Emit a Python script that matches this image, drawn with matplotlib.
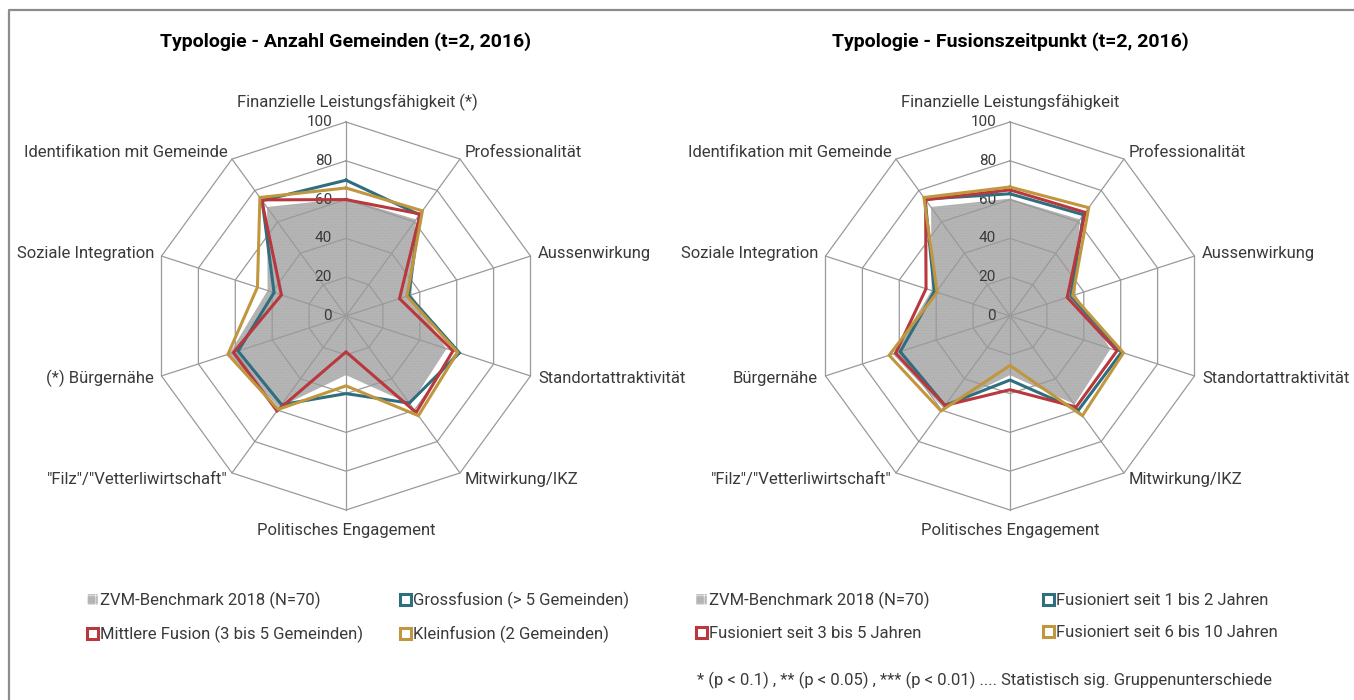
import matplotlib
matplotlib.use("Agg")
import matplotlib.pyplot as plt
import matplotlib.patches as mpatches
from matplotlib.lines import Line2D
import numpy as np

plt.rcParams['font.family'] = ['Roboto', 'DejaVu Sans']
plt.rcParams['hatch.linewidth'] = 0.4

#---------------------------------------------------------------------------------------------------
# data
#---------------------------------------------------------------------------------------------------
categories = ['Finanzielle Leistungsfähigkeit', 'Professionalität', 'Aussenwirkung',
              'Standortattraktivität', 'Mitwirkung/IKZ', 'Politisches Engagement',
              '"Filz"/"Vetterliwirtschaft"', 'Bürgernähe', 'Soziale Integration',
              'Identifikation mit Gemeinde']
# significance marks used in the left chart (prefix, suffix)
left_marks = {0: ('', ' (*)'), 7: ('(*) ', '')}

benchmark = [61, 62, 36, 55, 57, 31, 59, 64, 43, 70]

# left: number of merged municipalities
gross = [70, 64.5, 34, 61.5, 55.5, 40, 56.5, 58.5, 39, 73.5]
mittlere = [60, 65, 29, 58, 61.5, 18.5, 60.5, 61, 35, 74]
klein = [66, 67, 33, 60.5, 63.5, 36, 59.5, 64, 48, 75.5]

# right: time since merger
seit_1_2 = [63, 64.5, 33, 60.5, 60, 33, 57, 59.5, 41, 74.5]
seit_3_5 = [65, 66, 31, 58, 58, 38, 57, 62, 45.5, 74]
seit_6_10 = [66.5, 69, 34, 61.5, 63.5, 25.5, 60.5, 65.5, 39.5, 75.5]

ticks = [0, 20, 40, 60, 80, 100]

BLUE = '#2f6e7e'
RED = '#b8383d'
GOLD = '#c0963f'
GRID = '#9a9a9a'
TXT = '#3a3a3a'
FS = 12

W, H = 1354, 700
PX = 1.94          # pixel per unit of the radial scale
HALF = 300         # half size of the axes in pixels

angles = np.deg2rad(np.arange(len(categories)) * 36.0)

def to_xy(vals):
    vals = np.asarray(vals, dtype=float)
    x = vals * np.sin(angles)
    y = vals * np.cos(angles)
    return np.append(x, x[0]), np.append(y, y[0])

def radar(fig, cx, cy, title, series, marks):
    ax = fig.add_axes([(cx - HALF) / W, (H - cy - HALF) / H, 2 * HALF / W, 2 * HALF / H])
    lim = HALF / PX
    ax.set_xlim(-lim, lim)
    ax.set_ylim(-lim, lim)
    ax.set_aspect('equal')
    ax.axis('off')

    # benchmark area
    bx, by = to_xy(benchmark)
    ax.fill(bx, by, facecolor='#b5b5b5', edgecolor='#a9a9a9', lw=0, hatch='......', zorder=1)
    ax.plot(bx, by, color='white', lw=1.3, zorder=1.5)

    # grid
    for r in ticks[1:]:
        gx, gy = to_xy([r] * len(categories))
        ax.plot(gx, gy, color=GRID, lw=0.9, zorder=2)
    for a in angles:
        ax.plot([0, 100 * np.sin(a)], [0, 100 * np.cos(a)], color=GRID, lw=0.9, zorder=2)
    for r in ticks:
        ax.text(-14 / PX, r, str(r), ha='right', va='center', fontsize=11,
                color=TXT, zorder=3)

    # series
    for vals, col in series:
        sx, sy = to_xy(vals)
        ax.plot(sx, sy, color=col, lw=2.2, zorder=4, solid_joinstyle='miter')

    # category labels
    for i, (cat, a) in enumerate(zip(categories, angles)):
        pre, suf = marks.get(i, ('', ''))
        s, c = np.sin(a), np.cos(a)
        if i == 0 or i == 5:
            off = 20 / PX
            y = (100 + off) * c
            t = ax.text(0, y, cat, ha='center', va='center', fontsize=FS, color=TXT)
            if suf:
                ax.annotate(suf, xy=(1, 0.5), xycoords=t, ha='left', va='center',
                            fontsize=FS, color=TXT)
        else:
            off = 8 / PX
            x = 100 * s + off * s
            y = 100 * c + off * c
            ax.text(x, y, pre + cat + suf, ha='left' if s > 0 else 'right', va='center',
                    fontsize=FS, color=TXT)

    ax.text(0, (cy - 42) / PX, title, ha='center', va='center', fontsize=14,
            fontweight='bold', color='black')
    return ax

fig = plt.figure(figsize=(W / 100, H / 100), dpi=100)

radar(fig, 346, 316, 'Typologie - Anzahl Gemeinden (t=2, 2016)',
      [(gross, BLUE), (mittlere, RED), (klein, GOLD)], left_marks)
radar(fig, 1010, 316, 'Typologie - Fusionszeitpunkt (t=2, 2016)',
      [(seit_1_2, BLUE), (seit_3_5, RED), (seit_6_10, GOLD)], {})

# frame
fig.add_artist(Line2D([9 / W, 9 / W, 1.0], [0.0, 1 - 10 / H, 1 - 10 / H],
                      transform=fig.transFigure, color='#8c8c8c', lw=1.6))

def bench_patch(label):
    return mpatches.Patch(facecolor='#b4b4b4', edgecolor='white', hatch='++', lw=0.3, label=label)

def line_patch(col, label):
    return mpatches.Patch(facecolor='white', edgecolor=col, lw=2.2, label=label)

leg_kw = dict(ncol=2, frameon=False, handlelength=0.65, handleheight=0.65,
              handletextpad=0.15, labelspacing=1.0, borderaxespad=0, borderpad=0,
              labelcolor=TXT, prop={'size': FS})

h1 = [bench_patch('ZVM-Benchmark 2018 (N=70)'), line_patch(RED, 'Mittlere Fusion (3 bis 5 Gemeinden)'),
      line_patch(BLUE, 'Grossfusion (> 5 Gemeinden)'), line_patch(GOLD, 'Kleinfusion (2 Gemeinden)')]
fig.legend(handles=h1, loc='upper left', bbox_to_anchor=(87 / W, 1 - 592 / H),
           columnspacing=2.2, **leg_kw)

h2 = [bench_patch('ZVM-Benchmark 2018 (N=70)'), line_patch(RED, 'Fusioniert seit 3 bis 5 Jahren'),
      line_patch(BLUE, 'Fusioniert seit 1 bis 2 Jahren'), line_patch(GOLD, 'Fusioniert seit 6 bis 10 Jahren')]
fig.legend(handles=h2, loc='upper left', bbox_to_anchor=(696 / W, 1 - 592 / H),
           columnspacing=6.8, **leg_kw)

fig.text(697 / W, 1 - 680 / H,
         '* (p < 0.1) , ** (p < 0.05) , *** (p < 0.01) .... Statistisch sig. Gruppenunterschiede',
         ha='left', va='center', fontsize=FS, color=TXT)

plt.savefig('out.png', dpi=100)
